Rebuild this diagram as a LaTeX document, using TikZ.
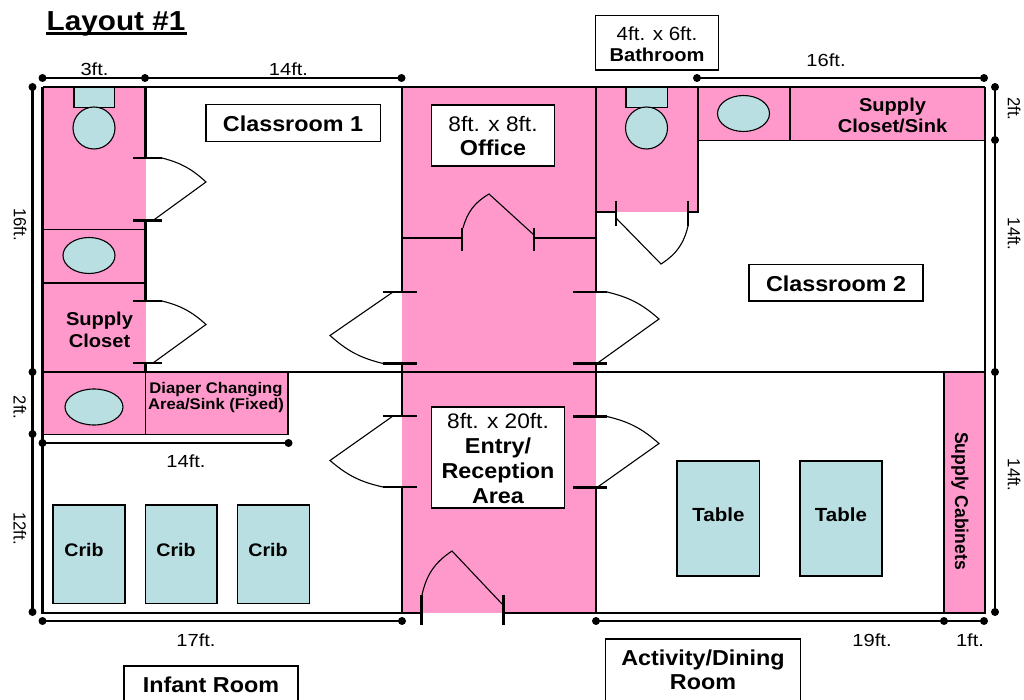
\documentclass[tikz,border=0pt]{standalone}
\usepackage{fontspec}
\setmainfont[FakeStretch=1.08]{Liberation Sans}
\newfontfamily\widefont[FakeStretch=1.15]{Liberation Sans}
\newfontfamily\narrowfont[FakeStretch=0.95]{Liberation Sans}
\definecolor{rosa}{HTML}{FF99CC}
\definecolor{teal2}{HTML}{BADFE2}
\newcommand{\fsz}[1]{\fontsize{#1}{#1}\selectfont}
\tikzset{
  x=1pt,y=-1pt,
  wall/.style={line width=2.2pt,black},
  thinwall/.style={line width=1.2pt,black},
  tick/.style={line width=2.8pt,black},
  door/.style={line width=1.1pt,black},
  dim/.style={line width=2.3pt,black},
  dot/.style={circle,fill=black,inner sep=0pt,minimum size=8pt},
  room/.style={fill=rosa,draw=none},
  item/.style={fill=teal2,draw=black,line width=1.1pt},
  lbl/.style={draw=black,fill=white,line width=1.1pt},
  txt/.style={inner sep=0pt,anchor=base,yshift=-1pt},
  dimtxt/.style={txt,font=\widefont\fsz{17.5}},
  rotdim/.style={inner sep=0pt,rotate=-90,font=\narrowfont\fsz{17.5}},
  plain/.style={txt,font=\fsz{21}},
  heavy/.style={txt,font=\fsz{21.6}\bfseries},
  midbold/.style={txt,font=\fsz{18.6}\bfseries},
  smallbold/.style={txt,font=\fsz{15.4}\bfseries}
}
\begin{document}
\begin{tikzpicture}
\useasboundingbox (0,0) rectangle (1024,700);
\fill[white] (0,0) rectangle (1024,700);
% pink areas
\fill[room] (42.5,87) rectangle (145.5,372);
\fill[room] (42.5,372) rectangle (288,434.5);
\fill[room] (402,87) rectangle (596,613);
\fill[room] (596,87) rectangle (698,212);
\fill[room] (698,87) rectangle (985,140);
\fill[room] (944,372) rectangle (985,613);
% outer walls
\draw[wall] (42.5,87) -- (985,87);
\draw[wall] (42.5,87) -- (42.5,613) -- (422,613);
\draw[wall] (503,613) -- (985,613) -- (985,87);
\draw[wall] (42.5,372) -- (985,372);
% inner walls
\draw[wall] (145.5,87) -- (145.5,158) (145.5,220.5) -- (145.5,301) (145.5,363) -- (145.5,372);
\draw[wall] (402,87) -- (402,292) (402,363.5) -- (402,416) (402,487) -- (402,613);
\draw[wall] (596,87) -- (596,292) (596,363.5) -- (596,416.5) (596,487.5) -- (596,613);
\draw[wall] (698,87) -- (698,212) -- (688,212) (596,212) -- (616,212);
\draw[wall] (42.5,283) -- (145.5,283);
\draw[thinwall] (42.5,229.5) -- (145.5,229.5);
\draw[thinwall] (42.5,434.5) -- (288,434.5) -- (288,372);
\draw[thinwall] (145.5,372) -- (145.5,434.5);
\draw[thinwall] (698,140.5) -- (985,140.5);
\draw[thinwall] (790,87) -- (790,140.5);
\draw[thinwall] (944,372) -- (944,613);
\draw[line width=1.6pt] (402,238) -- (462,238) (534,238) -- (596,238);
% ticks
\foreach \y in {158,220.5,301,363} \draw[tick] (133,\y) -- (162,\y);
\foreach \y in {292,363.5,416,487} \draw[tick] (383,\y) -- (416.5,\y);
\foreach \y in {292,363.5,416.5,487.5} \draw[tick] (573,\y) -- (607,\y);
\draw[tick] (462,228) -- (462,251) (534,228) -- (534,251);
\draw[tick] (616,201) -- (616,226) (688,201) -- (688,226);
\draw[tick] (421.5,595) -- (421.5,625) (503.5,595) -- (503.5,625);
% doors
\draw[door] (162,158) to[bend left=14] (206,182) -- (153,220.5);
\draw[door] (162,301) to[bend left=14] (206,324.5) -- (153,363);
\draw[door] (393,292) -- (330,335.5) to[bend right=14] (383,363.5);
\draw[door] (393,416) -- (330,460.5) to[bend right=14] (383,487);
\draw[door] (607,292) to[bend left=14] (659,319) -- (597,363.5);
\draw[door] (607,416.5) to[bend left=14] (659,443.5) -- (597,487.5);
\draw[door] (463,228) to[bend left=22] (489,194) -- (534,235);
\draw[door] (616,218) -- (661,264) to[bend right=22] (688,226);
\draw[door] (422,595) to[bend left=22] (452,551) -- (503,605);
% fixtures
\draw[item] (74,87) rectangle (114.5,107.5);
\draw[item] (94,128) circle[radius=21];
\draw[item] (626,87) rectangle (667.5,107.5);
\draw[item] (646.5,128) circle[radius=21];
\draw[item] (89,255.5) ellipse[x radius=26,y radius=18];
\draw[item] (94,407) ellipse[x radius=29,y radius=18];
\draw[item] (743.5,113.5) ellipse[x radius=26,y radius=18];
\draw[item] (53,505) rectangle (125,603.5);
\draw[item] (145.5,505) rectangle (217,603.5);
\draw[item] (237.5,505) rectangle (309.5,603.5);
\draw[item] (677,461) rectangle (759.5,576);
\draw[item] (800,461) rectangle (882,576);
% dimension lines
\draw[dim] (42.5,78) -- (401.5,78);
\foreach \x in {42.5,145,401.5} \node[dot] at (\x,78) {};
\draw[dim] (697,78) -- (984,78);
\foreach \x in {697,984} \node[dot] at (\x,78) {};
\draw[dim] (32.5,87) -- (32.5,612);
\foreach \y in {87,372,434,612} \node[dot] at (32.5,\y) {};
\draw[dim] (995,87) -- (995,612);
\foreach \y in {87,140,372,612} \node[dot] at (995,\y) {};
\draw[dim] (42.5,443) -- (288.5,443);
\foreach \x in {42.5,288.5} \node[dot] at (\x,443) {};
\draw[dim] (42.5,621) -- (402,621);
\foreach \x in {42.5,402} \node[dot] at (\x,621) {};
\draw[line width=2pt] (596,621) -- (984,621);
\foreach \x in {596,944,984} \node[dot] at (\x,621) {};
% dimension text
\node[dimtxt] (d3) at (94.5,75) {3ft.};
\node[dimtxt] (d14a) at (288.5,75) {14ft.};
\node[dimtxt] (d16) at (826,66) {16ft.};
\node[rotdim] (d16l) at (20,224.5) {16ft.};
\node[rotdim] (d2l) at (20,407.5) {2ft.};
\node[rotdim] (d12) at (20,528.5) {12ft.};
\node[rotdim] (d2r) at (1014,109) {2ft.};
\node[rotdim] (d14r) at (1014,234) {14ft.};
\node[rotdim] (d14s) at (1014,475) {14ft.};
\node[dimtxt] (d14b) at (186,466) {14ft.};
\node[dimtxt] (d17) at (196,645) {17ft.};
\node[dimtxt] (d19) at (872,645) {19ft.};
\node[dimtxt] (d1) at (970,645) {1ft.};
% title
\node[txt,font=\fsz{27.5}\bfseries] (title) at (116,30) {Layout \#1};
\draw[line width=2.4pt] (45.5,33.5) -- (187,33.5);
% boxes
\draw[lbl] (206,104.5) rectangle (380.5,141.5);
\node[heavy] (cr1) at (293,131) {Classroom 1};
\draw[lbl] (431.5,105) rectangle (554.5,166);
\node[plain] (off1) at (493,130.7) {8ft. x 8ft.};
\node[heavy] (off2) at (493,155) {Office};
\draw[lbl] (595.5,15.5) rectangle (718.5,70);
\node[txt,font=\fsz{19}] (bath1) at (657,40) {4ft. x 6ft.};
\node[midbold] (bath2) at (657,61) {Bathroom};
\draw[lbl] (749,264.5) rectangle (923,301);
\node[heavy] (cr2) at (836,290.7) {Classroom 2};
\draw[lbl] (431.5,407) rectangle (564.5,508);
\node[plain] (ent1) at (498,427.7) {8ft. x 20ft.};
\node[heavy] (ent2) at (498,452.7) {Entry/};
\node[heavy] (ent3) at (498,477.7) {Reception};
\node[heavy] (ent4) at (498,502.7) {Area};
\draw[lbl] (298,708) -- (298,666) -- (124,666) -- (124,708);
\node[heavy] (inf) at (211,691.7) {Infant Room};
\draw[lbl] (800.5,708) -- (800.5,639) -- (605.5,639) -- (605.5,708);
\node[heavy] (act1) at (703,664.3) {Activity/Dining};
\node[heavy] (act2) at (703,688.3) {Room};
% room text
\node[midbold] (sc1) at (99.5,324.4) {Supply};
\node[midbold] (sc2) at (99.5,346) {Closet};
\node[smallbold] (di1) at (216,392.2) {Diaper Changing};
\node[smallbold] (di2) at (216,408.8) {Area/Sink (Fixed)};
\node[midbold] (ss1) at (892.5,111) {Supply};
\node[midbold] (ss2) at (892.5,132) {Closet/Sink};
\node[inner sep=0pt,rotate=-90,font=\narrowfont\fsz{18.5}\bfseries] (cab) at (960,501) {Supply Cabinets};
\node[txt,font=\fsz{18.2}\bfseries] (c1) at (84,555.5) {Crib};
\node[txt,font=\fsz{18.2}\bfseries] (c2) at (176,555.5) {Crib};
\node[txt,font=\fsz{18.2}\bfseries] (c3) at (268,555.5) {Crib};
\node[txt,font=\fsz{19}\bfseries] (t1) at (718.5,520) {Table};
\node[txt,font=\fsz{19}\bfseries] (t2) at (841,520) {Table};
\end{tikzpicture}
\end{document}
